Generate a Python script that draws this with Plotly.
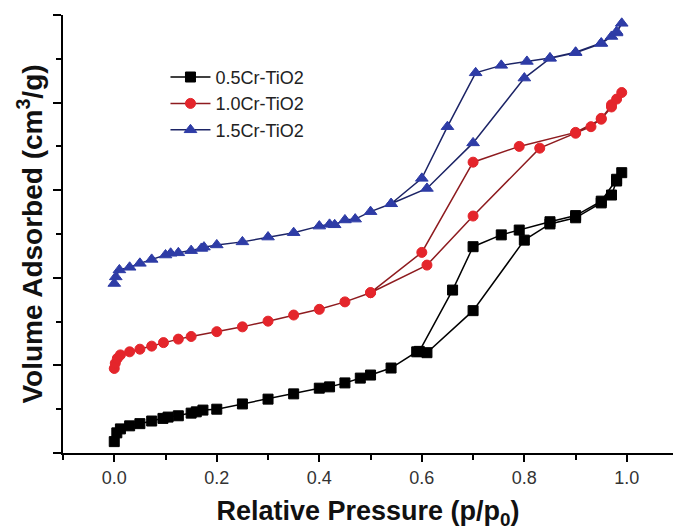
import plotly.graph_objects as go

# 0.5Cr-TiO2
cr05_ads_x = [0.0, 0.005, 0.012, 0.03, 0.05, 0.073, 0.095, 0.105, 0.125, 0.15, 0.16, 0.173, 0.2, 0.25, 0.3,
              0.35, 0.4, 0.42, 0.45, 0.48, 0.5, 0.54, 0.59, 0.61, 0.7, 0.8, 0.85, 0.9, 0.95, 0.97, 0.98, 0.99]
cr05_ads_y = [0.26, 0.46, 0.55, 0.62, 0.67, 0.73, 0.79, 0.82, 0.85, 0.91, 0.94, 0.98, 1.0, 1.12, 1.23,
              1.35, 1.48, 1.51, 1.6, 1.71, 1.78, 1.94, 2.31, 2.29, 3.25, 4.86, 5.23, 5.37, 5.71, 5.89, 6.21, 6.40]
cr05_des_x = [0.98, 0.95, 0.9, 0.85, 0.79, 0.755, 0.7, 0.66, 0.595]
cr05_des_y = [6.25, 5.75, 5.42, 5.28, 5.09, 4.98, 4.71, 3.72, 2.32]

# 1.0Cr-TiO2
cr10_ads_x = [0.0, 0.002, 0.006, 0.012, 0.03, 0.05, 0.073, 0.096, 0.125, 0.15, 0.2, 0.25, 0.3, 0.35, 0.4,
              0.45, 0.5, 0.61, 0.7, 0.83, 0.9, 0.93, 0.95, 0.97, 0.98, 0.99]
cr10_ads_y = [1.93, 2.05, 2.16, 2.24, 2.31, 2.37, 2.44, 2.52, 2.60, 2.66, 2.77, 2.88, 3.01, 3.15, 3.28,
              3.45, 3.66, 4.29, 5.41, 6.96, 7.30, 7.45, 7.64, 7.95, 8.08, 8.23]
cr10_des_x = [0.97, 0.95, 0.9, 0.79, 0.7, 0.6, 0.5]
cr10_des_y = [7.90, 7.62, 7.32, 7.00, 6.64, 4.58, 3.66]

# 1.5Cr-TiO2
cr15_ads_x = [0.0, 0.003, 0.01, 0.03, 0.05, 0.073, 0.1, 0.11, 0.125, 0.15, 0.17, 0.175, 0.2, 0.25, 0.3,
              0.35, 0.4, 0.42, 0.43, 0.45, 0.47, 0.5, 0.54, 0.61, 0.7, 0.8, 0.85, 0.9, 0.95, 0.97, 0.98, 0.99]
cr15_ads_y = [3.87, 4.02, 4.18, 4.24, 4.33, 4.42, 4.52, 4.56, 4.57, 4.62, 4.67, 4.70, 4.75, 4.82, 4.93,
              5.03, 5.18, 5.22, 5.21, 5.32, 5.34, 5.51, 5.69, 6.04, 7.08, 8.56, 9.01, 9.14, 9.35, 9.51, 9.59, 9.81]
cr15_des_x = [0.98, 0.95, 0.9, 0.85, 0.805, 0.755, 0.705, 0.65, 0.6, 0.54]
cr15_des_y = [9.62, 9.36, 9.15, 9.02, 8.94, 8.85, 8.68, 7.45, 6.27, 5.69]

x_ticks = [0.0, 0.2, 0.4, 0.6, 0.8, 1.0]
x_tick_labels = ["0.0", "0.2", "0.4", "0.6", "0.8", "1.0"]

series = [
    ("0.5Cr-TiO2", cr05_ads_x + cr05_des_x, cr05_ads_y + cr05_des_y, "#000000", "#000000", "square", 10),
    ("1.0Cr-TiO2", cr10_ads_x + cr10_des_x, cr10_ads_y + cr10_des_y, "#8e1b1f", "#e4252b", "circle", 10),
    ("1.5Cr-TiO2", cr15_ads_x + cr15_des_x, cr15_ads_y + cr15_des_y, "#1c2466", "#2e3ca6", "triangle-up", 11),
]

FONT = "Liberation Sans, Arial, sans-serif"
fig = go.Figure()
for name, xs, ys, lc, mc, sym, ms in series:
    fig.add_trace(go.Scatter(
        x=xs, y=ys, name=name, mode="lines+markers",
        line=dict(color=lc, width=1.5),
        marker=dict(symbol=sym, size=ms, color=mc, line=dict(color=mc, width=1)),
    ))

fig.update_layout(
    width=673, height=530,
    margin=dict(l=63, r=0, t=15, b=77),
    paper_bgcolor="white", plot_bgcolor="white",
    font=dict(family=FONT, color="#222222"),
    showlegend=True,
    legend=dict(x=0.168, y=0.9, xanchor="left", yanchor="top",
                bgcolor="rgba(0,0,0,0)", font=dict(size=18, family=FONT, color="#222222"),
                itemwidth=40, tracegroupgap=0),
    xaxis=dict(
        range=[-0.1, 1.09], tickmode="array", tickvals=x_ticks, ticktext=x_tick_labels,
        showgrid=False, zeroline=False, showline=True, linecolor="black", linewidth=2,
        ticks="outside", ticklen=7, tickwidth=1.5, tickcolor="black",
        tickfont=dict(size=18, color="#333333", family=FONT),
        minor=dict(dtick=0.1, tick0=0, ticks="outside", ticklen=5, tickwidth=1.5, tickcolor="black", showgrid=False),
        title=dict(text="Relative Pressure (p/p<sub>0</sub>)", font=dict(size=27, family=FONT, color="#111111", weight="bold"),
                   standoff=15),
    ),
    yaxis=dict(
        range=[0, 10], dtick=2, tick0=0, showticklabels=False,
        showgrid=False, zeroline=False, showline=True, linecolor="black", linewidth=2,
        ticks="outside", ticklen=8, tickwidth=1.5, tickcolor="black",
        minor=dict(dtick=1, tick0=0, ticks="outside", ticklen=5, tickwidth=1.5, tickcolor="black", showgrid=False),
        title=dict(text="Volume Adsorbed (cm<sup>3</sup>/g)", font=dict(size=28, family=FONT, color="#111111", weight="bold"),
                   standoff=2),
    ),
)

fig.write_html("out.html")
